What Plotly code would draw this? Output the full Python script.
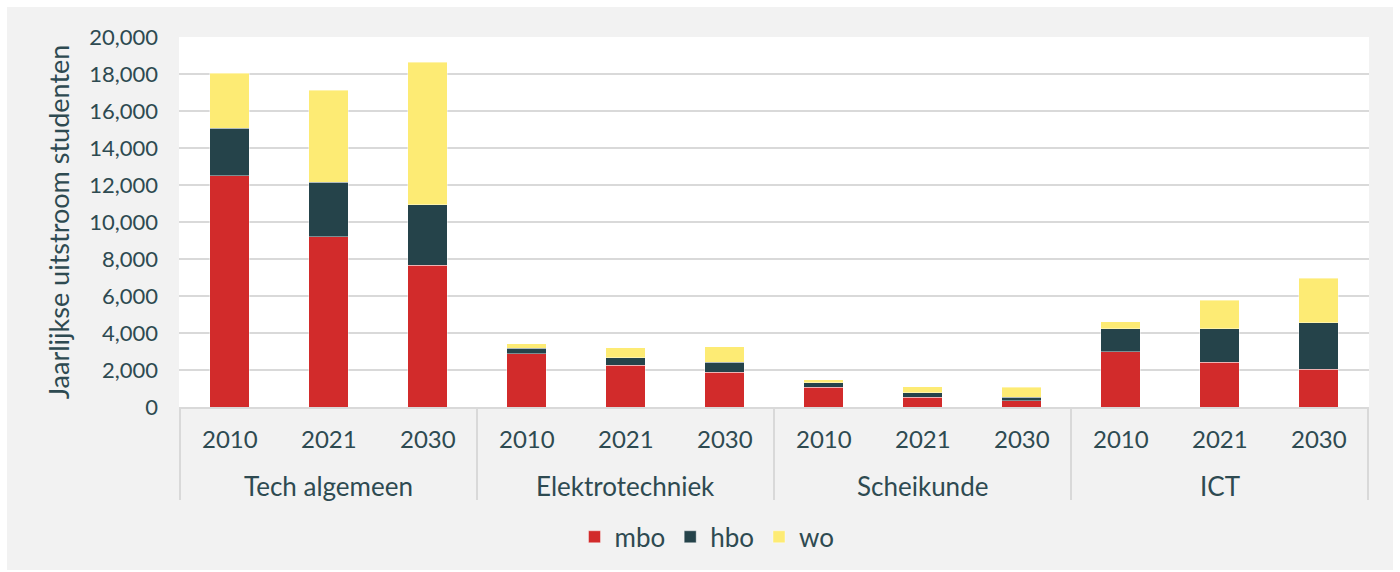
import plotly.graph_objects as go

# Jaarlijkse uitstroom studenten per sector en jaar
sectors = ["Tech algemeen", "Elektrotechniek", "Scheikunde", "ICT"]
years = ["2010", "2021", "2030"]

mbo = [12500, 9200, 7650, 2880, 2270, 1880, 1060, 520, 340, 2980, 2420, 2040]
hbo = [2580, 2960, 3270, 290, 400, 540, 250, 250, 200, 1240, 1800, 2520]
wo = [2970, 4950, 7720, 240, 540, 830, 150, 330, 540, 400, 1560, 2410]

colors = {"mbo": "#d22b2b", "hbo": "#25434a", "wo": "#fdeb74"}
text_col = "#2e4a51"
grid_col = "#d9d9d9"
font_family = "Lato, 'Noto Sans', sans-serif"

# multicategory x: [sector, year] for each bar
x_outer = [s for s in sectors for _ in years]
x_inner = [y for _ in sectors for y in years]

fig = go.Figure()
for name, vals in [("mbo", mbo), ("hbo", hbo), ("wo", wo)]:
    fig.add_trace(go.Bar(
        x=[x_outer, x_inner], y=vals, name=name,
        marker=dict(color=colors[name], line=dict(color="rgba(255,255,255,0.5)", width=0.8)),
    ))

# grey card behind the chart, white plot area on top of it
shapes = [
    dict(type="rect", xref="paper", yref="paper", x0=-0.1445, x1=1.0202, y0=-0.4405, y1=1.081,
         fillcolor="#f2f2f2", line=dict(width=0), layer="below"),
    dict(type="rect", xref="paper", yref="paper", x0=0, x1=1, y0=0, y1=1,
         fillcolor="white", line=dict(width=0), layer="below"),
]

# two-level axis labels, drawn by hand so the spacing matches
annotations = []
n = len(years)
for i, s in enumerate(sectors):
    for j, y in enumerate(years):
        annotations.append(dict(x=i * n + j, y=-0.084, xref="x", yref="paper", text=y,
                                showarrow=False, yanchor="middle", font=dict(size=24)))
    annotations.append(dict(x=i * n + (n - 1) / 2, y=-0.2135, xref="x", yref="paper", text=s,
                            showarrow=False, yanchor="middle", font=dict(size=26)))
for k in range(len(sectors) + 1):
    shapes.append(dict(type="line", xref="x", yref="paper", x0=k * n - 0.5, x1=k * n - 0.5,
                       y0=0, y1=-0.2514, line=dict(color=grid_col, width=2)))

fig.update_layout(
    barmode="stack",
    bargap=0.6,
    width=1400, height=572,
    margin=dict(l=179, r=31, t=37, b=165, autoexpand=False),
    paper_bgcolor="white",
    plot_bgcolor="white",
    font=dict(family=font_family, size=24, color=text_col),
    legend=dict(orientation="h", x=0.4437, xanchor="center", y=-0.351, yanchor="middle",
                bgcolor="rgba(0,0,0,0)", font=dict(size=26), itemwidth=30,
                traceorder="normal", tracegroupgap=0),
    shapes=shapes,
    annotations=annotations,
)

fig.update_yaxes(
    range=[0, 20000], dtick=2000, tickformat=",d",
    gridcolor=grid_col, gridwidth=2, zeroline=False,
    tickfont=dict(size=22), ticklabelstandoff=20,
    title=dict(text="Jaarlijkse uitstroom studenten", standoff=11, font=dict(size=27)),
)
fig.update_xaxes(
    type="multicategory",
    showline=True, linecolor=grid_col, linewidth=2,
    showticklabels=False, showdividers=False,
)

# page body has an 8px default margin; drop it so the figure fills the window
fig.write_html("out.html", config={"displayModeBar": False},
               post_script="document.body.style.margin='0';")
